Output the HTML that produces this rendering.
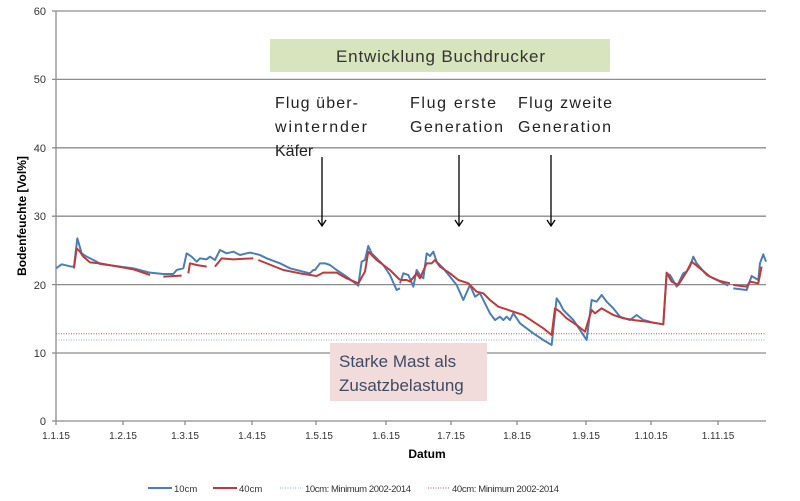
<!DOCTYPE html><html><head><style>body{margin:0;background:#fff}svg{display:block;font-family:"Liberation Sans",sans-serif}</style></head><body>
<svg width="800" height="501" viewBox="0 0 800 501">
<g stroke="#8c8c8c" stroke-width="1.3">
<line x1="56" x2="766" y1="11" y2="11"/><line x1="56" x2="766" y1="79.4" y2="79.4"/><line x1="56" x2="766" y1="147.8" y2="147.8"/><line x1="56" x2="766" y1="216.2" y2="216.2"/><line x1="56" x2="766" y1="284.6" y2="284.6"/><line x1="56" x2="766" y1="353" y2="353"/><line x1="56" x2="766" y1="421" y2="421"/><line x1="56" x2="56" y1="11" y2="421"/>
<path d="M52 11h4M52 79.4h4M52 147.8h4M52 216.2h4M52 284.6h4M52 353h4M52 421h4M56 421v4M123 421v4M185 421v4M252 421v4M316 421v4M386 421v4M451 421v4M517 421v4M586 421v4M651 421v4M718 421v4"/>
</g>
<line x1="56" x2="766" y1="333.7" y2="333.7" stroke="#c0504d" stroke-width="1" stroke-dasharray="1,1.5"/>
<line x1="56" x2="766" y1="340" y2="340" stroke="#8fa9c8" stroke-width="1" stroke-dasharray="1,1.5"/>
<g font-size="11" fill="#333" text-anchor="end"><text x="46" y="15">60</text><text x="46" y="83">50</text><text x="46" y="152">40</text><text x="46" y="220">30</text><text x="46" y="289">20</text><text x="46" y="357">10</text><text x="46" y="425">0</text></g>
<g font-size="10" fill="#333" text-anchor="middle"><text x="56" y="439">1.1.15</text><text x="123" y="439">1.2.15</text><text x="185" y="439">1.3.15</text><text x="252" y="439">1.4.15</text><text x="319" y="439">1.5.15</text><text x="386" y="439">1.6.15</text><text x="451" y="439">1.7.15</text><text x="517" y="439">1.8.15</text><text x="586" y="439">1.9.15</text><text x="651" y="439">1.10.15</text><text x="718" y="439">1.11.15</text></g>
<text x="427" y="458" font-size="12" font-weight="bold" text-anchor="middle">Datum</text>
<text transform="translate(26,216) rotate(-90)" font-size="12" font-weight="bold" text-anchor="middle">Bodenfeuchte [Vol%]</text>
<rect x="270" y="39" width="340" height="33" fill="#d7e4bd"/>
<text x="336" y="62" font-size="17" fill="#333" textLength="209">Entwicklung Buchdrucker</text>
<rect x="330" y="343" width="157" height="58" fill="#f2dcdb"/>
<text x="339" y="367" font-size="17" fill="#3f4a64">Starke Mast als</text>
<text x="339" y="391" font-size="17" fill="#3f4a64">Zusatzbelastung</text>
<g font-size="16" fill="#222"><text x="275" y="108" textLength="83">Flug über-</text><text x="275" y="132" textLength="92">winternder</text><text x="275" y="156">Käfer</text><text x="410" y="108" textLength="86">Flug erste</text><text x="410" y="132" textLength="93">Generation</text><text x="518" y="108" textLength="94">Flug zweite</text><text x="518" y="132" textLength="93">Generation</text></g>
<g stroke="#000" stroke-width="1.3" fill="none"><path d="M322 157V226M318 220l4 6 4-6M459 155V226M455 220l4 6 4-6M551 155V226M547 220l4 6 4-6"/></g>
<g fill="none" stroke-width="2" stroke-linejoin="round">
<g transform="matrix(0.3333,0,0,0.3333,0,220)">
<polyline vector-effect="non-scaling-stroke" stroke="#4a7eb5" points="168,145 185,133 215,140 222,140 232,55 245,100 260,110 290,125 300,132 400,145 450,158 490,162 520,162 530,150 550,145 560,100 575,110 590,125 600,115 620,118 630,110 645,120 660,90 680,100 700,95 720,105 740,100 750,98 760,100 780,105 800,115 840,130 870,145 890,150 910,155 930,160 940,150 945,150 960,130 975,130 990,135 1010,150 1040,170 1075,197 1085,125 1095,120 1105,78 1115,100 1150,135 1170,165 1190,210 1200,205"/>
<polyline vector-effect="non-scaling-stroke" stroke="#c0393b" points="222,145 230,85 240,95 250,110 270,127 300,130 400,148 450,165"/>
<polyline vector-effect="non-scaling-stroke" stroke="#c0393b" points="490,170 545,167"/>
<polyline vector-effect="non-scaling-stroke" stroke="#c0393b" points="565,160 570,130 590,135 620,140"/>
<polyline vector-effect="non-scaling-stroke" stroke="#c0393b" points="645,140 665,115 700,118 740,116 760,115"/>
<polyline vector-effect="non-scaling-stroke" stroke="#c0393b" points="775,120 850,150 900,160 950,168 970,158 1010,158 1040,175 1075,190 1095,155 1105,95 1130,120 1170,150 1200,180"/>
</g>
<g transform="matrix(0.3333,0,0,0.3333,400,220)">
<polyline vector-effect="non-scaling-stroke" stroke="#4a7eb5" points="0,190 10,160 25,165 40,200 50,150 60,165 70,175 80,100 90,108 100,95 110,125 130,145 150,170 170,195 190,240 210,195 225,230 240,220 255,250 270,280 285,300 300,290 310,300 320,290 330,300 340,280 360,310 380,325 400,340 430,360 455,375 470,235 480,250 490,270 520,300 540,330 560,360 575,240 590,245 605,225 620,245 640,265 660,290 690,300 710,285 730,300 760,308 790,313 800,160 810,165 830,200 850,160 860,155 870,140 880,110 890,130 920,165 960,185 985,197"/>
<polyline vector-effect="non-scaling-stroke" stroke="#4a7eb5" points="1000,205 1040,210 1055,168 1075,180 1080,130 1090,103 1098,125"/>
<polyline vector-effect="non-scaling-stroke" stroke="#c0393b" points="0,180 20,180 30,185 50,160 60,175 80,130 95,130 105,120 120,140 150,160 175,180 205,190 230,215 250,220 270,240 295,260 310,265 340,275 370,285 400,305 430,325 455,345 465,265 480,275 500,295 530,315 555,335 575,270 585,280 605,265 640,285 670,295 700,300 740,305 790,313 800,158 815,185 835,195 860,155 875,125 900,145 930,170 960,183 990,190"/>
<polyline vector-effect="non-scaling-stroke" stroke="#c0393b" points="1000,195 1040,200 1050,185 1075,190 1085,140"/>
</g>
</g>
<g font-size="9.5" fill="#333">
<line x1="148" x2="172" y1="488" y2="488" stroke="#4a7eb5" stroke-width="2"/><text x="174" y="492">10cm</text>
<line x1="213" x2="237" y1="488" y2="488" stroke="#c0393b" stroke-width="2"/><text x="239" y="492">40cm</text>
<line x1="280" x2="303" y1="488" y2="488" stroke="#8fa9c8" stroke-dasharray="1,1.5"/><text x="305" y="492" textLength="106">10cm: Minimum 2002-2014</text>
<line x1="428" x2="450" y1="488" y2="488" stroke="#c0504d" stroke-dasharray="1,1.5"/><text x="452" y="492" textLength="107">40cm: Minimum 2002-2014</text>
</g>
</svg></body></html>
